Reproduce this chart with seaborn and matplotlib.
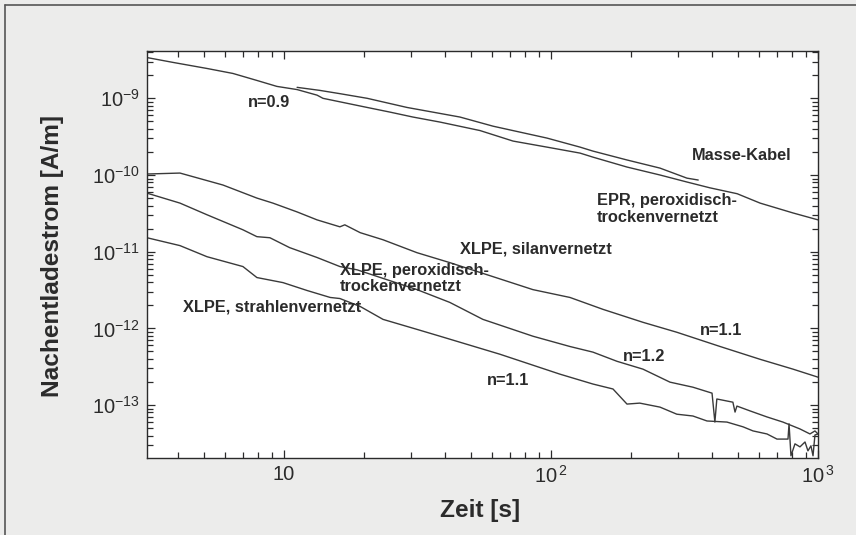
import numpy as np
import pandas as pd
import matplotlib
matplotlib.use("Agg")
import matplotlib.pyplot as plt
import matplotlib.ticker as mticker
from matplotlib.lines import Line2D
import seaborn as sns

# ---- measured discharge currents (time in s, current in A/m) ----
masse_t = [3.07, 3.84, 5.15, 6.44, 7.92, 9.41, 11.2, 13.3, 14.0, 20.5, 25.0, 30.4,
           38.4, 54.2, 72.1, 96.6, 128.5, 143.6, 192.6, 256, 323, 394, 498, 607,
           806, 1000]
masse_i = [3.40e-9, 2.94e-9, 2.45e-9, 2.11e-9, 1.71e-9, 1.43e-9, 1.30e-9, 1.10e-9,
           1.0e-9, 7.6e-10, 6.6e-10, 5.7e-10, 4.9e-10, 3.8e-10, 2.77e-10, 2.31e-10,
           1.93e-10, 1.71e-10, 1.27e-10, 1.0e-10, 8.1e-11, 6.8e-11, 5.7e-11, 4.3e-11,
           3.2e-11, 2.6e-11]

epr_t = [11.2, 13.6, 16.2, 20.5, 28.9, 45.6, 60.7, 96.6, 128.5, 143.6, 192.6, 256,
         323, 356]
epr_i = [1.39e-9, 1.27e-9, 1.15e-9, 1.0e-9, 7.6e-10, 5.7e-10, 4.33e-10, 3.03e-10,
         2.31e-10, 2.05e-10, 1.57e-10, 1.23e-10, 9.1e-11, 8.6e-11]

silan_t = [3.07, 4.08, 5.91, 7.92, 9.09, 11.2, 13.3, 16.2, 16.9, 19.3, 23.5, 31.5,
           41.8, 60.6, 85.6, 117.8, 156.6, 221, 296, 430, 607, 806, 1000]
silan_i = [1.03e-10, 1.06e-10, 7.4e-11, 5.0e-11, 4.3e-11, 3.3e-11, 2.6e-11, 2.11e-11,
           2.24e-11, 1.77e-11, 1.43e-11, 9.7e-12, 7.2e-12, 4.73e-12, 3.2e-12, 2.53e-12,
           1.77e-12, 1.20e-12, 8.9e-13, 5.8e-13, 3.95e-13, 2.94e-13, 2.31e-13]

perox_t = [3.07, 4.08, 5.15, 7.02, 7.92, 8.86, 10.5, 13.3, 16.2, 18.8, 31.5, 41.8,
           55.6, 85.6, 117.8, 143.6, 176.7, 221, 279, 340, 401, 411, 418, 480, 489,
           497, 556, 644, 739, 856, 933, 974, 1000]
perox_i = [5.8e-11, 4.3e-11, 3.03e-11, 1.93e-11, 1.57e-11, 1.52e-11, 1.13e-11, 8.4e-12,
           6.4e-12, 5.8e-12, 3.2e-12, 2.18e-12, 1.31e-12, 7.9e-13, 5.8e-13, 4.9e-13,
           3.72e-13, 2.94e-13, 1.99e-13, 1.71e-13, 1.43e-13, 6.0e-14, 1.20e-13, 1.09e-13,
           8.1e-14, 9.7e-14, 8.4e-14, 7.0e-14, 6.0e-14, 4.88e-14, 4.2e-14, 4.6e-14, 4.2e-14]

strahl_t = [3.07, 4.08, 5.15, 7.02, 7.92, 9.92, 12.2, 14.9, 16.2, 19.3, 23.5, 31.5,
            38.4, 45.6, 64.4, 108, 143.6, 170.7, 192.6, 215, 256, 296, 340, 384, 456,
            524, 571, 644, 702, 772, 779, 792, 820, 856, 894, 917, 941, 958, 974, 1000]
strahl_i = [1.52e-11, 1.20e-11, 8.6e-12, 6.4e-12, 4.6e-12, 3.95e-12, 3.12e-12, 2.53e-12,
            2.45e-12, 1.93e-12, 1.31e-12, 9.7e-13, 7.9e-13, 6.6e-13, 4.6e-13, 2.53e-13,
            1.88e-13, 1.62e-13, 1.03e-13, 1.06e-13, 9.4e-14, 7.6e-14, 7.2e-14, 6.2e-14,
            6.0e-14, 5.2e-14, 4.6e-14, 4.2e-14, 3.6e-14, 3.6e-14, 5.7e-14, 2.18e-14,
            3.12e-14, 2.85e-14, 3.3e-14, 2.53e-14, 2.94e-14, 2.18e-14, 4.07e-14, 4.2e-14]

series_names = ["Masse-Kabel", "EPR", "XLPE silan", "XLPE peroxid", "XLPE strahlen"]
series_t = [masse_t, epr_t, silan_t, perox_t, strahl_t]
series_i = [masse_i, epr_i, silan_i, perox_i, strahl_i]

x_ticks = [10, 100, 1000]
x_tick_labels = ["10", r"$\mathregular{10^{\,2}}$", r"$\mathregular{10^{\,3}}$"]
y_ticks = [1e-13, 1e-12, 1e-11, 1e-10, 1e-9]
y_tick_labels = [r"$\mathregular{10^{-13}}$", r"$\mathregular{10^{-12}}$",
                 r"$\mathregular{10^{-11}}$", r"$\mathregular{10^{-10}}$",
                 r"$\mathregular{10^{-9}}$"]

# annotations: text, x, y (data coordinates, left edge / vertical centre)
annotations = [
    ("n=0.9", 7.33, 8.95e-10),
    ("Masse-Kabel", 337, 1.77e-10),
    ("EPR, peroxidisch-\ntrockenvernetzt", 148.6, 3.6e-11),
    ("XLPE, silanvernetzt", 45.6, 1.08e-11),
    ("XLPE, peroxidisch-\ntrockenvernetzt", 16.2, 4.48e-12),
    ("XLPE, strahlenvernetzt", 4.18, 1.90e-12),
    ("n=1.1", 361, 9.5e-13),
    ("n=1.2", 186, 4.24e-13),
    ("n=1.1", 57.5, 2.12e-13),
]

frames = []
for name, t, i in zip(series_names, series_t, series_i):
    frames.append(pd.DataFrame({"t": t, "I": i, "Kabel": name}))
df = pd.concat(frames, ignore_index=True)

sns.set_theme(style="ticks")
plt.rcParams["font.family"] = ["Liberation Sans", "DejaVu Sans"]
plt.rcParams["mathtext.fontset"] = "custom"
plt.rcParams["mathtext.rm"] = "Liberation Sans"
plt.rcParams["mathtext.it"] = "Liberation Sans:italic"
plt.rcParams["mathtext.bf"] = "Liberation Sans:bold"

ink = "#2b2b2b"
line_col = "#3a3a3a"

W, H = 856, 535
L, R, T, B = 147, 818, 51, 458

fig = plt.figure(figsize=(W / 100, H / 100), dpi=100, facecolor="#ececeb")
ax = fig.add_axes([L / W, 1 - B / H, (R - L) / W, (B - T) / H])
ax.set_facecolor("white")

for name in series_names:
    sub = df[df["Kabel"] == name]
    sns.lineplot(data=sub, x="t", y="I", ax=ax, color=line_col, linewidth=1.0,
                 estimator=None, sort=False, legend=False)

ax.set_xscale("log")
ax.set_yscale("log")
ax.set_xlim(3.07, 1000)
ax.set_ylim(2.04e-14, 4.14e-9)

ax.xaxis.set_major_locator(mticker.FixedLocator(x_ticks))
ax.xaxis.set_major_formatter(mticker.FixedFormatter(x_tick_labels))
ax.xaxis.set_minor_locator(mticker.LogLocator(base=10, subs=np.arange(2, 10)))
ax.xaxis.set_minor_formatter(mticker.NullFormatter())
ax.yaxis.set_major_locator(mticker.FixedLocator(y_ticks))
ax.yaxis.set_major_formatter(mticker.FixedFormatter(y_tick_labels))
ax.yaxis.set_minor_locator(mticker.LogLocator(base=10, subs=np.arange(2, 10), numticks=20))
ax.yaxis.set_minor_formatter(mticker.NullFormatter())

ax.tick_params(which="both", direction="in", top=True, right=True, color=ink, width=0.9)
ax.tick_params(which="major", length=6, labelsize=14.5, labelcolor=ink, pad=5)
ax.tick_params(which="minor", length=4)
for sp in ax.spines.values():
    sp.set_color(ink)
    sp.set_linewidth(1.0)

ax.set_xlabel("Zeit [s]", fontsize=17.6, fontweight="bold", color=ink)
ax.set_ylabel("Nachentladestrom [A/m]", fontsize=17.6, fontweight="bold", color=ink)
ax.xaxis.set_label_coords((480 - L) / (R - L), -(499 - B) / (B - T))
ax.yaxis.set_label_coords(-(L - 64) / (R - L), (B - 256) / (B - T))

for txt, x, y in annotations:
    ax.text(x, y, txt, fontsize=11.8, fontweight="bold", color=ink,
            ha="left", va="center", linespacing=1.15)

# scanned page frame
fig.add_artist(Line2D([5 / W, 5 / W], [0, 1 - 5 / H], transform=fig.transFigure,
                      color="#555555", linewidth=1.2))
fig.add_artist(Line2D([5 / W, 1], [1 - 5 / H, 1 - 5 / H], transform=fig.transFigure,
                      color="#555555", linewidth=1.2))

fig.savefig("out.png", dpi=100, facecolor=fig.get_facecolor())
